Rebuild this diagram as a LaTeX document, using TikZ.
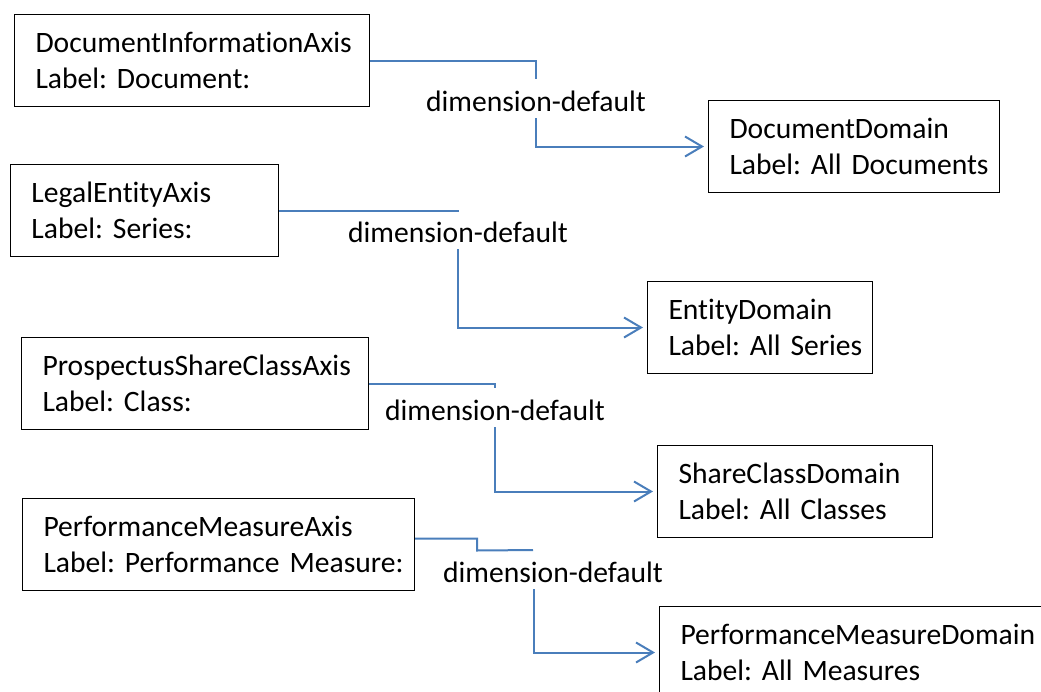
\documentclass[tikz,border=0pt]{standalone}
\usepackage{fontspec}
\setmainfont[Ligatures=NoCommon]{Carlito}
\usepackage{tikz}
\usetikzlibrary{arrows.meta}
\usetikzlibrary{positioning}

\definecolor{connblue}{RGB}{74,126,187}
\newcommand{\boxfont}{\fontsize{14.8}{18}\selectfont\spaceskip=0.2em\relax}
\frenchspacing
\hyphenpenalty=10000
\exhyphenpenalty=10000

\begin{document}
\begin{tikzpicture}[x=0.5pt,y=-0.5pt,>={Straight Barb[length=8.5pt,width=10pt]},shorten >=2pt,
	box node/.style={draw,line width=0.5pt,anchor=north west,align=left,inner xsep=10.5pt,
		minimum height=46pt,font=\boxfont},
	dim label/.style={anchor=base,font=\boxfont,inner xsep=2pt,inner ysep=3.5pt,
		text height=10.5pt,text depth=0pt},
	conn/.style={draw=connblue,line width=1pt}]
	
	\useasboundingbox (0,0) rectangle (1041,692);
	\clip (0,0) rectangle (1041,692);
	
	\node[box node,text width=156.5pt] (docaxis) at (14,14) {DocumentInformationAxis\\Label: Document:};
	\node[box node,text width=124.5pt] (docdom) at (708,100) {DocumentDomain\\Label:~All~Documents};
	\node[box node,text width=113pt] (entaxis) at (10,164) {LegalEntityAxis\\Label: Series:};
	\node[box node,text width=91.5pt] (entdom) at (647,281) {EntityDomain\\Label:~All~Series};
	\node[box node,text width=152.5pt] (classaxis) at (21,337) {ProspectusShareClassAxis\\Label: Class:};
	\node[box node,text width=116.5pt] (classdom) at (657,445) {ShareClassDomain\\Label: All Classes};
	\node[box node,text width=175pt] (measaxis) at (22,498) {PerformanceMeasureAxis\\Label:~Performance~Measure:};
	\node[box node,text width=179pt] (measdom) at (659,606) {PerformanceMeasureDomain\\Label: All Measures};
	
	\node[dim label] (dim1) at (536,111) {dimension-default};
	\node[dim label] (dim2) at (458,242) {dimension-default};
	\node[dim label] (dim3) at (495,420) {dimension-default};
	\node[dim label] (dim4) at (553,582) {dimension-default};
	\coordinate (cut4) at (537,550);
	
	\path[conn] (docaxis.east) -| (dim1.north);
	\path[conn,->] (dim1.south) |- (docdom.west);
	\path[conn] (entaxis.east) -| (dim2.north);
	\path[conn,->] (dim2.south) |- (entdom.west);
	\path[conn] (classaxis.east) -| (dim3.north);
	\path[conn,->] (dim3.south) |- (classdom.west);
	\path[conn] ([yshift=3pt]measaxis.east) -| ++(62,12) -- (cut4);
	\path[conn,->] ([xshift=-9.5pt]dim4.south) |- (measdom.west);
\end{tikzpicture}
\end{document}
